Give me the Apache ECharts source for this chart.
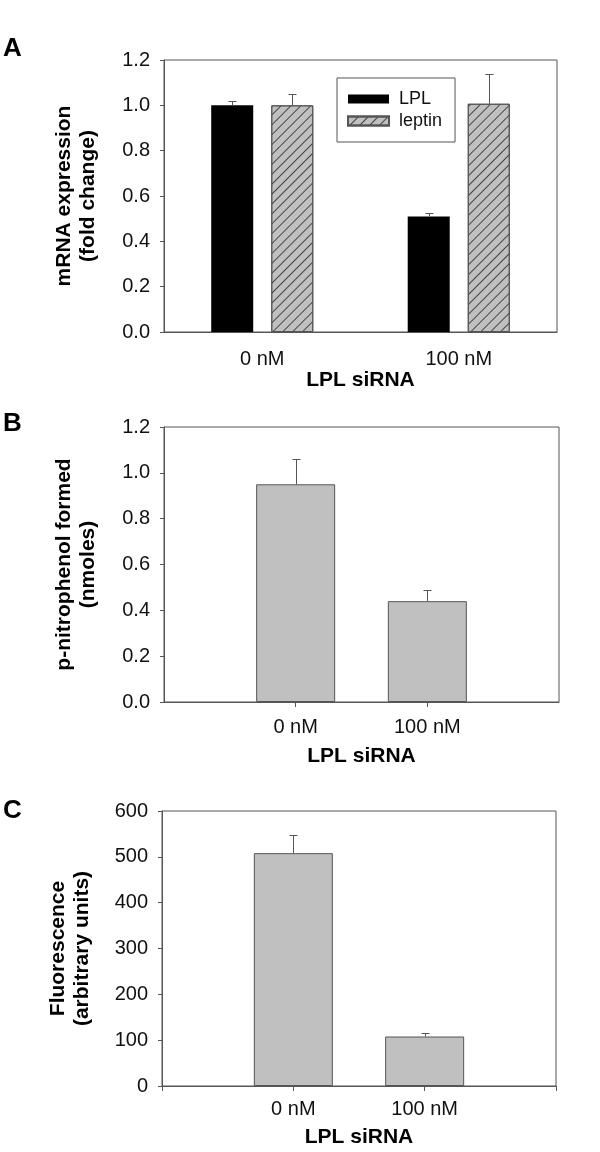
<!DOCTYPE html>
<html>
<head>
<meta charset="utf-8">
<script src="https://cdn.jsdelivr.net/npm/echarts@6/dist/echarts.min.js"></script>
<style>
  html, body { margin: 0; padding: 0; background: #fff; }
  #chart { width: 600px; height: 1152px; }
</style>
</head>
<body>
<div id="chart"></div>
<script>
// Panel A: mRNA expression
const categoriesA = ['0 nM', '100 nM'];
const lplMean = [1.0, 0.51];
const lplErr = [0.02, 0.015];
const leptinMean = [1.0, 1.007];
const leptinErr = [0.05, 0.13];

// Panels B and C share the same category layout (empty slots at both ends)
const categoriesBC = ['', '0 nM', '100 nM', ''];
const nitrophenolMean = ['-', 0.95, 0.44, '-'];
const nitrophenolErr = ['-', 0.11, 0.05, '-'];
const fluorMean = ['-', 508, 108, '-'];
const fluorErr = ['-', 40, 8, '-'];

const FONT = 'Liberation Sans, Arial, sans-serif';
const AXIS_COLOR = '#555';
const BAR_W_A = 42;
const BAR_GAP_A = '43%';
const BAR_W_BC = 79;

const toErrData = (means, errs) =>
  means.map((m, i) => [i, m, errs[i]]).filter((d) => d[1] !== '-');

// upper error bar drawn with a custom series
function errorBars(axisIdx, data, slot, count, barWidth, barGap) {
  return {
    type: 'custom',
    xAxisIndex: axisIdx,
    yAxisIndex: axisIdx,
    data,
    z: 5,
    silent: true,
    encode: { x: 0, y: 1 },
    renderItem(params, api) {
      let dx = 0;
      if (count > 1 && api.barLayout) {
        const lay = api.barLayout({ barWidth, barGap, count });
        dx = lay[slot].offsetCenter;
      }
      const base = api.coord([api.value(0), api.value(1)]);
      const top = api.coord([api.value(0), api.value(1) + api.value(2)]);
      const x = Math.round(base[0] + dx) + 0.5;
      const yt = Math.round(top[1]) + 0.5;
      const style = { stroke: AXIS_COLOR, lineWidth: 1, fill: null };
      return {
        type: 'group',
        children: [
          { type: 'line', shape: { x1: x, y1: base[1], x2: x, y2: yt }, style },
          { type: 'line', shape: { x1: x - 4, y1: yt, x2: x + 4, y2: yt }, style },
        ],
      };
    },
  };
}

const xName = (gap) => ({
  name: 'LPL siRNA',
  nameLocation: 'middle',
  nameGap: gap,
  nameTextStyle: { fontFamily: FONT, fontSize: 21, fontWeight: 'bold', color: '#000' },
});

const yAxisBase = (name, gap, max, interval, digits) => ({
  type: 'value',
  min: 0,
  max,
  interval,
  name,
  nameLocation: 'middle',
  nameGap: gap,
  nameTextStyle: {
    fontFamily: FONT, fontSize: 21, fontWeight: 'bold', color: '#000', lineHeight: 24,
  },
  axisLine: { show: true, lineStyle: { color: AXIS_COLOR } },
  axisTick: { show: true, length: 4, lineStyle: { color: AXIS_COLOR } },
  splitLine: { show: false },
  axisLabel: {
    margin: 14,
    fontFamily: FONT,
    fontSize: 20,
    color: '#111',
    formatter: (v) => v.toFixed(digits),
  },
});

const letter = (text, top) => ({
  text, left: 3, top, padding: 0,
  textStyle: { fontFamily: FONT, fontSize: 26, fontWeight: 'bold', color: '#000' },
});

const chart = echarts.init(document.getElementById('chart'), null, { renderer: 'canvas' });

chart.setOption({
  animation: false,
  backgroundColor: '#fff',
  title: [letter('A', 36), letter('B', 411), letter('C', 798)],
  legend: {
    data: ['LPL', 'leptin'],
    orient: 'vertical',
    left: 337,
    top: 78,
    backgroundColor: '#fff',
    borderColor: AXIS_COLOR,
    borderWidth: 1,
    padding: [12, 13, 12, 10],
    itemWidth: 41,
    itemHeight: 9,
    itemGap: 4,
    icon: 'rect',
    textStyle: { fontFamily: FONT, fontSize: 18, color: '#111', padding: [0, 0, 0, 5] },
  },
  grid: [
    { left: 164, top: 60, width: 393, height: 272, show: true, borderColor: AXIS_COLOR, borderWidth: 1 },
    { left: 164, top: 427, width: 395, height: 275, show: true, borderColor: AXIS_COLOR, borderWidth: 1 },
    { left: 162, top: 811, width: 394, height: 275, show: true, borderColor: AXIS_COLOR, borderWidth: 1 },
  ],
  xAxis: [
    {
      gridIndex: 0,
      type: 'category',
      data: categoriesA,
      ...xName(35),
      axisLine: { lineStyle: { color: AXIS_COLOR } },
      axisTick: { alignWithLabel: true, length: 5, lineStyle: { color: AXIS_COLOR } },
      axisLabel: { margin: 17, fontFamily: FONT, fontSize: 20, color: '#111' },
    },
    {
      gridIndex: 1,
      type: 'category',
      data: categoriesBC,
      boundaryGap: false,
      ...xName(44),
      axisLine: { lineStyle: { color: AXIS_COLOR } },
      axisTick: { length: 5, interval: (i) => i === 1 || i === 2, lineStyle: { color: AXIS_COLOR } },
      axisLabel: { interval: 0, margin: 15, fontFamily: FONT, fontSize: 20, color: '#111' },
    },
    {
      gridIndex: 2,
      type: 'category',
      data: categoriesBC,
      boundaryGap: false,
      ...xName(41),
      axisLine: { lineStyle: { color: AXIS_COLOR } },
      axisTick: { length: 5, interval: 0, lineStyle: { color: AXIS_COLOR } },
      axisLabel: { interval: 0, margin: 13, fontFamily: FONT, fontSize: 20, color: '#111' },
    },
  ],
  yAxis: [
    { gridIndex: 0, ...yAxisBase('mRNA expression\n(fold change)', 64, 1.2, 0.2, 1) },
    { gridIndex: 1, ...yAxisBase('p-nitrophenol formed\n(nmoles)', 64, 1.2, 0.2, 1) },
    { gridIndex: 2, ...yAxisBase('Fluorescence\n(arbitrary units)', 68, 600, 100, 0) },
  ],
  series: [
    {
      name: 'LPL',
      type: 'bar',
      xAxisIndex: 0,
      yAxisIndex: 0,
      data: lplMean,
      barWidth: BAR_W_A,
      barGap: BAR_GAP_A,
      itemStyle: { color: '#000', borderColor: '#000', borderWidth: 0 },
    },
    {
      name: 'leptin',
      type: 'bar',
      xAxisIndex: 0,
      yAxisIndex: 0,
      data: leptinMean,
      barWidth: BAR_W_A,
      barGap: BAR_GAP_A,
      itemStyle: {
        color: '#c0c0c0',
        borderColor: AXIS_COLOR,
        borderWidth: 1,
        decal: {
          symbol: 'rect',
          symbolSize: 1,
          dashArrayX: [1, 0],
          dashArrayY: [1, 6],
          rotation: -Math.PI / 4,
          color: '#444',
        },
      },
    },
    errorBars(0, toErrData(lplMean, lplErr), 0, 2, BAR_W_A, BAR_GAP_A),
    errorBars(0, toErrData(leptinMean, leptinErr), 1, 2, BAR_W_A, BAR_GAP_A),
    {
      name: 'p-nitrophenol',
      type: 'bar',
      xAxisIndex: 1,
      yAxisIndex: 1,
      data: nitrophenolMean,
      barWidth: BAR_W_BC,
      itemStyle: { color: '#c0c0c0', borderColor: AXIS_COLOR, borderWidth: 1 },
    },
    errorBars(1, toErrData(nitrophenolMean, nitrophenolErr), 0, 1, BAR_W_BC),
    {
      name: 'Fluorescence',
      type: 'bar',
      xAxisIndex: 2,
      yAxisIndex: 2,
      data: fluorMean,
      barWidth: BAR_W_BC,
      itemStyle: { color: '#c0c0c0', borderColor: AXIS_COLOR, borderWidth: 1 },
    },
    errorBars(2, toErrData(fluorMean, fluorErr), 0, 1, BAR_W_BC),
  ],
});
</script>
</body>
</html>
